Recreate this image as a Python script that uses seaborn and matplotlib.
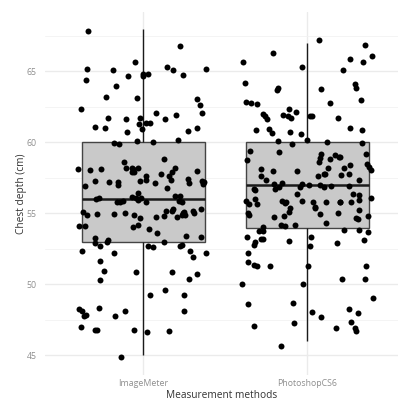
import numpy as np
import pandas as pd
import matplotlib
matplotlib.use("Agg")
import matplotlib.pyplot as plt
from matplotlib.ticker import MultipleLocator
import seaborn as sns

methods = ["ImageMeter", "PhotoshopCS6"]

imagemeter = [
    67.86, 66.8, 65.63, 65.07, 65.18, 64.83, 64.67, 65.16, 65.07, 64.81,
    65.33, 64.72, 64.67, 64.37, 63.94, 63.03, 63.19, 63.10, 62.65, 62.32,
    62.06, 62.06, 61.69, 61.38, 61.03, 61.08, 61.38, 61.94, 61.62, 61.31,
    61.03, 60.92, 60.70, 61.69, 61.66, 60.82, 60.16, 59.86, 60.02, 59.95,
    60.09, 58.63, 58.85, 58.17, 58.19, 57.89, 58.19, 57.98, 58.10, 58.2,
    58.1, 57.9, 57.8, 57.60, 57.93, 58.14, 58.03, 57.35, 57.37, 57.63,
    57.07, 56.76, 56.9, 57.0, 57.15, 57.2, 57.2, 57.25, 57.1, 57.3,
    57.4, 57.3, 57.23, 56.4,
    56.2, 56.1, 56.0, 55.9, 55.82, 55.82, 56.05, 56.17, 56.08, 55.87,
    55.82, 55.82, 55.91, 56.19, 55.0, 55.16, 55.0, 55.30, 55.07, 55.18,
    54.95, 54.65, 54.90, 55.14, 54.95, 54.83, 54.86, 55.0, 55.09, 54.90,
    54.76, 55.32, 54.90, 54.74, 54.08, 54.06, 54.18, 54.11, 53.87, 53.61,
    53.38, 53.31, 53.24, 53.1, 53.0, 52.9, 52.96, 52.63, 52.70, 52.70,
    52.35, 52.33, 52.72, 52.74, 52.23, 52.23, 51.66, 51.94, 50.75, 50.94,
    50.89, 50.85, 50.35, 50.30,
    49.62, 49.25, 49.25, 48.31, 48.12, 47.77, 48.15, 47.75, 48.24, 48.15,
    47.84, 46.76, 46.97, 46.62, 46.71, 46.76, 46.80, 44.88,
]

photoshop = [
    67.18, 66.87, 66.05, 66.27, 65.68, 65.89, 65.68, 65.28, 65.11, 64.13,
    63.73, 63.82, 64.20, 63.71, 63.80, 62.68, 62.96, 62.86, 62.79, 62.79,
    62.32,
    62.16, 61.85, 61.85, 61.85, 61.90, 61.73, 61.97, 61.66, 61.85, 61.73,
    60.94, 60.89, 61.03, 60.87, 60.75, 60.68, 60.61, 60.09, 60.16, 59.95,
    59.86, 60.02, 58.87, 58.99, 59.39, 58.94, 59.15, 59.20, 59.34, 58.85,
    59.08, 58.17, 58.12, 58.28, 58.47, 58.0, 58.63, 58.73, 58.05, 57.79,
    57.75, 57.68, 57.32, 57.11, 57.04, 56.99, 56.69, 57.32, 57.08, 56.83,
    56.62, 56.90, 56.90, 57.79, 57.96, 58.17, 57.65, 58.38, 57.65, 56.85,
    56.99, 56.85, 56.69, 56.34, 56.38,
    56.29, 55.82, 55.99, 55.82, 55.85, 55.78, 55.77, 55.87, 55.91, 55.63,
    55.37, 55.70, 55.85, 55.78, 55.42, 55.21, 54.95, 55.80, 56.08, 55.63,
    55.04, 55.0, 55.35, 55.09, 54.65, 54.81, 54.62, 54.30, 54.11, 54.90,
    54.76, 54.83, 54.20, 54.04, 54.15, 53.85, 53.75, 53.85, 53.77, 53.66,
    53.35, 53.33, 53.10, 53.07, 52.89, 52.72, 52.79, 52.96, 53.19, 53.17,
    52.18, 51.59, 51.31, 51.38, 51.31, 51.29, 51.29, 50.35, 50.39,
    50.04, 50.0, 49.01, 48.63, 48.68, 48.07, 48.0, 48.24, 47.68, 47.25,
    47.35, 46.90, 46.69, 46.94, 47.06, 45.63,
]

df = pd.DataFrame({
    "method": [methods[0]] * len(imagemeter) + [methods[1]] * len(photoshop),
    "depth": imagemeter + photoshop,
})
# the boxes are drawn from the whole-cm measurements, the dots carry the jitter
df["measured"] = df["depth"].round()

sns.set_theme(style="white")
plt.rcParams["font.family"] = ["Open Sans", "DejaVu Sans"]

fig = plt.figure(figsize=(3.98, 4.03), dpi=100)
ax = fig.add_axes([45 / 398, 28 / 403, 353 / 398, 363 / 403])

sns.boxplot(data=df, x="method", y="measured", order=methods, whis=(0, 100),
            width=0.75, color="#c9c9c9", saturation=1, linecolor="#444444",
            linewidth=1.0, showfliers=False,
            medianprops={"linewidth": 1.8, "color": "#1a1a1a"},
            whiskerprops={"color": "#1a1a1a", "linewidth": 1.0},
            capprops={"visible": False}, ax=ax)

np.random.seed(7)
sns.stripplot(data=df, x="method", y="depth", order=methods, jitter=0.4,
              color="black", size=4.3, linewidth=0, zorder=3, ax=ax)

ax.set_xlim(-0.6, 1.555)
ax.set_ylim(43.61, 69.18)
ax.yaxis.set_major_locator(MultipleLocator(5))
ax.yaxis.set_minor_locator(MultipleLocator(2.5))
ax.grid(True, which="major", color="#ebebeb", linewidth=1.0)
ax.grid(True, which="minor", axis="y", color="#f2f2f2", linewidth=0.6)
ax.set_axisbelow(True)
for s in ax.spines.values():
    s.set_visible(False)
ax.tick_params(length=0, labelsize=6.3, labelcolor="#8e8e8e", pad=6)
ax.tick_params(axis="x", pad=3)

ax.set_xlabel("Measurement methods", fontsize=7.3, color="#333333", labelpad=1)
ax.set_ylabel("Chest depth (cm)", fontsize=7.3, color="#333333", labelpad=0)

fig.savefig("out.png", dpi=100)
